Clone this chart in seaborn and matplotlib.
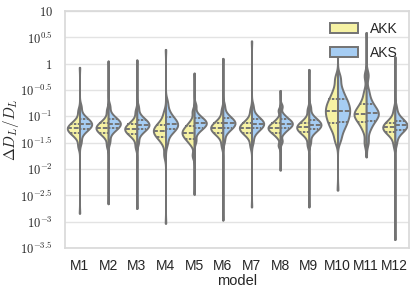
import numpy as np
import pandas as pd
import matplotlib
matplotlib.use("Agg")
import matplotlib.pyplot as plt
import seaborn as sns

# ---- data (log10 of Delta D_L / D_L) ----
models = ["M1", "M2", "M3", "M4", "M5", "M6", "M7", "M8", "M9", "M10", "M11", "M12"]
variants = ["AKK", "AKS"]

# lowest / highest single values (the thin tails), shared by both halves
tail_min = [-2.84, -2.66, -2.75, -3.03, -2.48, -2.97, -2.72, -2.02, -2.72, -2.40, -1.77, -3.34]
tail_max = [-0.07, 0.05, 0.07, 0.27, -0.18, 0.10, 0.43, -0.51, -0.11, 0.30, 0.59, 0.13]

# representative body values (equal-weight sample points)
akk_body = [
    [-1.56, -1.41, -1.35, -1.32, -1.29, -1.27, -1.25, -1.23, -1.21, -1.19, -1.17, -1.14, -1.11, -1.05, -0.90],
    [-1.55, -1.40, -1.34, -1.31, -1.28, -1.26, -1.24, -1.22, -1.20, -1.18, -1.16, -1.13, -1.10, -1.04, -0.89],
    [-1.57, -1.42, -1.36, -1.33, -1.30, -1.28, -1.26, -1.24, -1.22, -1.20, -1.18, -1.15, -1.12, -1.06, -0.91],
    [-1.73, -1.53, -1.44, -1.40, -1.36, -1.33, -1.31, -1.28, -1.25, -1.23, -1.20, -1.17, -1.13, -1.06, -0.93],
    [-1.74, -1.54, -1.47, -1.43, -1.39, -1.36, -1.34, -1.31, -1.28, -1.26, -1.23, -1.19, -1.15, -1.08, -0.91],
    [-1.55, -1.40, -1.34, -1.31, -1.28, -1.26, -1.24, -1.22, -1.20, -1.18, -1.16, -1.13, -1.10, -1.04, -0.89],
    [-1.55, -1.40, -1.34, -1.31, -1.28, -1.26, -1.24, -1.22, -1.20, -1.18, -1.16, -1.13, -1.10, -1.04, -0.89],
    [-1.55, -1.40, -1.34, -1.31, -1.28, -1.26, -1.24, -1.22, -1.20, -1.18, -1.16, -1.13, -1.10, -1.04, -0.89],
    [-1.54, -1.39, -1.33, -1.30, -1.27, -1.25, -1.23, -1.21, -1.19, -1.17, -1.15, -1.12, -1.09, -1.03, -0.88],
    [-1.45, -1.28, -1.19, -1.12, -1.06, -1.00, -0.95, -0.90, -0.85, -0.80, -0.74, -0.68, -0.60, -0.48, -0.28],
    [-1.50, -1.27, -1.17, -1.10, -1.05, -1.01, -0.98, -0.95, -0.92, -0.88, -0.83, -0.77, -0.68, -0.53, -0.23],
    [-1.54, -1.39, -1.33, -1.30, -1.27, -1.25, -1.23, -1.21, -1.19, -1.17, -1.15, -1.12, -1.09, -1.03, -0.88],
]
aks_body = [
    [-1.48, -1.33, -1.27, -1.24, -1.21, -1.19, -1.17, -1.15, -1.13, -1.11, -1.09, -1.06, -1.03, -0.97, -0.82],
    [-1.47, -1.32, -1.26, -1.23, -1.20, -1.18, -1.16, -1.14, -1.12, -1.10, -1.08, -1.05, -1.02, -0.96, -0.81],
    [-1.49, -1.34, -1.28, -1.25, -1.22, -1.20, -1.18, -1.16, -1.14, -1.12, -1.10, -1.07, -1.04, -0.98, -0.83],
    [-1.50, -1.35, -1.29, -1.25, -1.22, -1.19, -1.17, -1.15, -1.12, -1.09, -1.06, -1.02, -0.97, -0.88, -0.73],
    [-1.46, -1.31, -1.25, -1.22, -1.19, -1.17, -1.15, -1.13, -1.11, -1.09, -1.07, -1.04, -1.01, -0.95, -0.80],
    [-1.46, -1.31, -1.25, -1.22, -1.19, -1.17, -1.15, -1.13, -1.11, -1.09, -1.07, -1.04, -1.01, -0.95, -0.80],
    [-1.47, -1.32, -1.26, -1.23, -1.20, -1.18, -1.16, -1.14, -1.12, -1.10, -1.08, -1.05, -1.02, -0.96, -0.81],
    [-1.47, -1.32, -1.26, -1.23, -1.20, -1.18, -1.16, -1.14, -1.12, -1.10, -1.08, -1.05, -1.02, -0.96, -0.81],
    [-1.49, -1.34, -1.28, -1.25, -1.22, -1.20, -1.18, -1.16, -1.14, -1.12, -1.10, -1.07, -1.04, -0.98, -0.83],
    [-1.43, -1.27, -1.18, -1.11, -1.05, -0.99, -0.94, -0.89, -0.84, -0.79, -0.73, -0.67, -0.59, -0.47, -0.27],
    [-1.48, -1.26, -1.16, -1.09, -1.04, -1.00, -0.97, -0.94, -0.91, -0.87, -0.82, -0.76, -0.67, -0.52, -0.22],
    [-1.50, -1.35, -1.29, -1.26, -1.23, -1.21, -1.19, -1.17, -1.15, -1.13, -1.11, -1.08, -1.05, -0.99, -0.84],
]
body_count = 6   # each body point stands for this many observations; tails are single observations

ytick_values = [-3.5, -3.0, -2.5, -2.0, -1.5, -1.0, -0.5, 0.0, 0.5, 1.0]
ytick_labels = [r"$10^{-3.5}$", r"$10^{-3}$", r"$10^{-2.5}$", r"$10^{-2}$", r"$10^{-1.5}$",
                r"$10^{-1}$", r"$10^{-0.5}$", r"$1$", r"$10^{0.5}$", r"$10$"]

# ---- build long-form table ----
rows = []
for m, lo, hi, a, s in zip(models, tail_min, tail_max, akk_body, aks_body):
    for name, body in (("AKK", a), ("AKS", s)):
        vals = [lo] + list(np.repeat(body, body_count)) + [hi]
        rows.extend((m, name, v) for v in vals)
df = pd.DataFrame(rows, columns=["model", "variant", "value"])

# ---- style ----
sns.set_theme(style="whitegrid")
plt.rcParams["font.family"] = ["Liberation Sans", "DejaVu Sans"]
plt.rcParams["mathtext.fontset"] = "cm"
plt.rcParams["axes.edgecolor"] = "#d9d9d9"
plt.rcParams["grid.color"] = "#e3e3e3"

fig, ax = plt.subplots(figsize=(4.15, 2.89), dpi=100)
fig.subplots_adjust(left=0.157, right=0.986, top=0.962, bottom=0.142)

sns.violinplot(data=df, x="model", y="value", hue="variant", order=models,
               hue_order=variants, split=True, inner="quart", cut=0,
               bw_method=0.28, density_norm="width", width=0.85,
               palette=["#f6f2a4", "#a6cdf3"], linecolor="#737373",
               linewidth=1.4, saturation=1, ax=ax)

ax.set_ylim(-3.5, 1.0)
ax.set_yticks(ytick_values)
ax.set_yticklabels(ytick_labels, fontsize=9)
ax.tick_params(axis="x", labelsize=10, pad=2)
ax.tick_params(axis="y", pad=3)
ax.set_xlabel("model", fontsize=10.5, labelpad=1)
ax.set_ylabel(r"$\Delta D_L/D_L$", fontsize=11)
ax.yaxis.set_label_coords(-0.128, 0.5)
for sp in ax.spines.values():
    sp.set_color("#d9d9d9")

sns.move_legend(ax, "upper right", title=None, frameon=False, fontsize=10,
                handlelength=2.0, handletextpad=0.9, labelspacing=0.7,
                borderaxespad=0.4)

fig.savefig("out.png", dpi=100)
